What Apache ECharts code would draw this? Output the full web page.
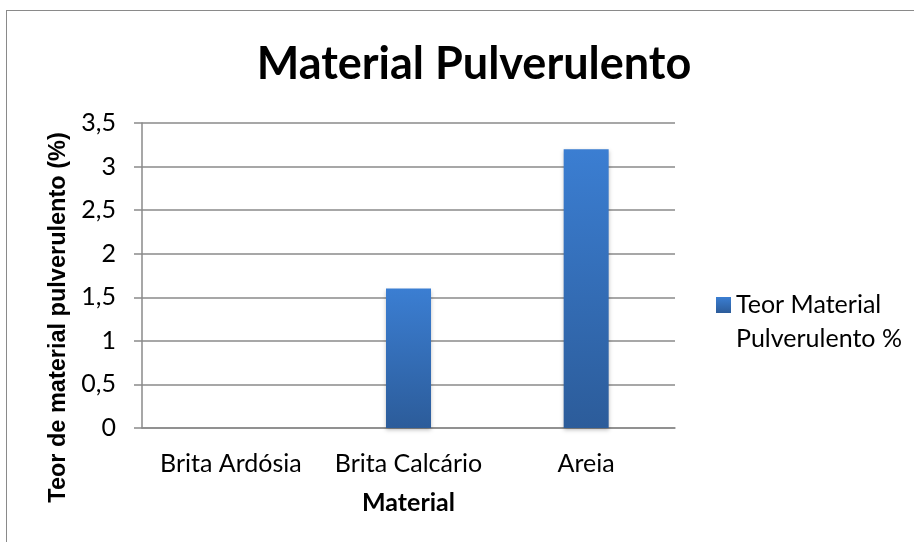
<!DOCTYPE html>
<html>
<head>
<meta charset="utf-8">
<script src="https://cdn.jsdelivr.net/npm/echarts@6/dist/echarts.min.js"></script>
<style>
    html, body { margin: 0; padding: 0; background: #fff; }
    .frame { position: absolute; left: 6px; top: 10px; width: 920px; height: 545px; border: 1.5px solid #8a8a8a; box-sizing: border-box; }
    #chart { position: absolute; left: 0; top: 0; width: 914px; height: 542px; }
</style>
</head>
<body>
<div class="frame"></div>
<div id="chart"></div>
<script>
var categories = ['Brita Ardósia', 'Brita Calcário', 'Areia'];
var teorValues = [0, 1.6, 3.2];
var seriesName = 'Teor Material Pulverulento %';

(function () {
    var myChart = echarts.init(document.getElementById('chart'));
    var font = 'Lato, "Open Sans", sans-serif';
    var option = {
        animation: false,
        title: {
            text: 'Material Pulverulento',
            left: 469,
            top: 37,
            textAlign: 'center',
            textStyle: { fontFamily: font, fontSize: 45, fontWeight: 'bold', color: '#000' }
        },
        legend: {
            left: 711,
            top: 249,
            orient: 'vertical',
            itemWidth: 15,
            itemHeight: 16,
            data: [{ name: seriesName, icon: 'rect' }],
            // blank first line keeps the marker level with "Teor Material"
            formatter: function () { return ' \nTeor Material\nPulverulento %'; },
            textStyle: { fontFamily: font, fontSize: 25, color: '#000', lineHeight: 34 }
        },
        grid: { left: 142, right: 239, top: 123, bottom: 114 },
        xAxis: {
            type: 'category',
            data: categories,
            name: 'Material',
            nameLocation: 'middle',
            nameGap: 62,
            nameTextStyle: { fontFamily: font, fontSize: 25, fontWeight: 'bold', color: '#000' },
            axisLine: { lineStyle: { color: '#8a8a8a', width: 1.5 } },
            axisTick: { show: false },
            axisLabel: { fontFamily: font, fontSize: 25, color: '#000', margin: 23, interval: 0, hideOverlap: false }
        },
        yAxis: {
            type: 'value',
            min: 0,
            max: 3.5,
            interval: 0.5,
            name: 'Teor de material pulverulento (%)',
            nameLocation: 'middle',
            nameGap: 68,
            nameTextStyle: {
                fontFamily: '"Liberation Sans", Arial, sans-serif', fontSize: 23.5, fontWeight: 'bold', color: '#000',
                padding: [0, 84, 0, 0]
            },
            axisLine: { show: true, lineStyle: { color: '#8a8a8a', width: 1.5 } },
            axisTick: { show: true, inside: false, length: 8, lineStyle: { color: '#8a8a8a', width: 1.5 } },
            splitLine: { lineStyle: { color: '#8a8a8a', width: 1.5 } },
            axisLabel: {
                fontFamily: font, fontSize: 25, color: '#000', margin: 26,
                formatter: function (v) { return String(v).replace('.', ','); }
            }
        },
        series: [{
            name: seriesName,
            type: 'bar',
            data: teorValues,
            barWidth: 45,
            itemStyle: {
                color: new echarts.graphic.LinearGradient(0, 0, 0, 1, [
                    { offset: 0, color: '#3b7ed2' },
                    { offset: 1, color: '#2c5c9a' }
                ]),
                shadowColor: 'rgba(0,0,0,0.25)',
                shadowBlur: 4,
                shadowOffsetY: 2
            }
        }]
    };
    myChart.setOption(option);
})();
</script>
</body>
</html>
